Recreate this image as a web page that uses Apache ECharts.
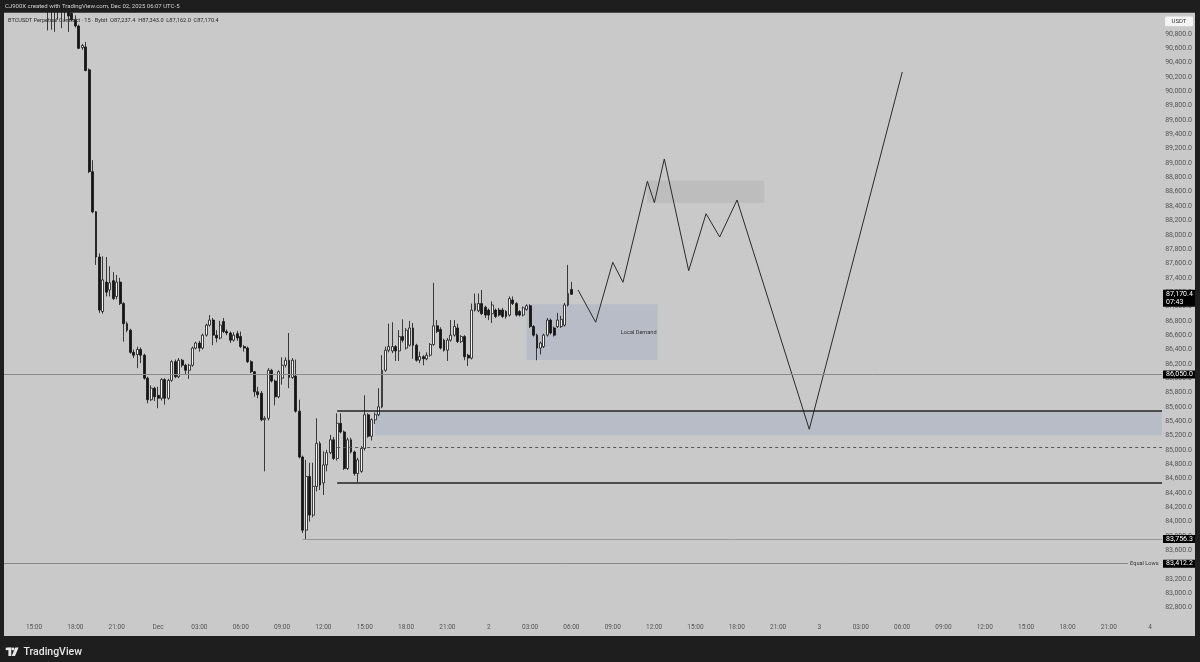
<!DOCTYPE html>
<html><head><meta charset="utf-8">
<script src="https://cdn.jsdelivr.net/npm/echarts@6/dist/echarts.min.js"></script>
<style>html,body{margin:0;padding:0;background:#1e1e1e;}#c{width:1200px;height:662px;}</style>
</head><body><div id="c"></div>
<script>
// ---- time base: hours relative to Dec 1 00:00 (UTC-5); 15-minute bars
const barStartHour = -11;
const barStepHour = 0.25;

// ---- BTCUSDT 15m candles
const opens = [91380,91330,91280,91340,91310,91230,91260,91240,91190,91220,91200,91160,91180,91150,91130,91160,91140,91110,91120,91090,
91000,90910,90610,90620,90300,88880,88320,87690,86930,87340,87230,87360,87140,87340,87040,86760,86670,86360,86330,86400,
86320,86000,85700,85860,85760,85720,85980,85720,85970,86230,86020,86250,86180,86110,86180,86420,86490,86420,86600,86740,
86810,86600,86560,86790,86650,86630,86530,86620,86580,86440,86420,86230,86090,85810,85790,85420,85440,86110,85960,85740,
86000,86180,86250,86010,86030,85540,84900,83880,84630,84090,84490,85090,84540,84790,84960,85140,84880,85370,85250,84740,
85140,84970,84670,84700,85020,85490,85190,85420,85490,85600,86110,86390,86380,86440,86380,86580,86420,86460,86700,86460,
86250,86300,86270,86320,86470,86730,86680,86530,86390,86530,86600,86700,86510,86580,86320,86280,86950,86940,87040,86990,
86950,86900,86950,86950,86950,86930,86880,87090,87040,86930,86880,86960,87010,86720,86600,86420,86440,86600,86810,86700,
86720,86720,86740,87020,87237.4];
const highs = [91450,91400,91360,91420,91350,91300,91330,91280,91260,91290,91240,91220,91230,91200,91190,91210,91180,91160,91170,91110,
91060,90930,90660,90690,90320,89040,88330,87740,87700,87690,87560,87480,87440,87400,87060,86790,86690,86400,86440,86430,
86340,86020,85900,85880,85880,86000,86000,85990,86250,86260,86280,86270,86200,86200,86440,86510,86520,86620,86760,86880,
86840,86670,86800,86840,86680,86650,86640,86660,86650,86460,86440,86250,86100,85880,85820,85470,86140,86130,85980,86110,
86290,86290,86630,86280,86260,85700,84920,84860,84820,84820,85440,85120,84980,85000,85210,85180,85510,85510,85270,85170,
85170,84990,84890,85050,85760,85510,85440,85520,85860,86320,86440,86760,86780,86460,86670,86820,86700,86800,86770,86480,
86370,86320,86360,86490,87330,86810,86710,86550,86560,86810,86810,86760,86600,86600,86340,87040,87180,87180,87230,87010,
86970,87070,86970,86980,86980,86950,87140,87140,87060,86950,87000,87030,87030,86740,86620,86510,86620,86840,86830,86720,
86910,86870,87050,87580,87343.0];
const lows = [91300,91250,91220,91290,91200,91170,91210,91150,91130,91160,91120,91110,90850,90860,90830,91000,90880,90980,90830,90980,
90890,90590,90580,90280,88860,88300,87580,86910,86900,87140,87140,87090,87100,87020,86510,86640,86340,86280,86140,86210,
85980,85650,85680,85680,85580,85690,85630,85700,85950,86000,86000,86150,86050,85990,86160,86400,86370,86400,86580,86720,
86460,86500,86540,86630,86600,86490,86510,86520,86420,86370,86210,86070,85740,85720,85400,84700,85410,85940,85620,85720,
85910,86150,85860,85990,85520,84880,83840,83756.3,84000,84060,84420,84440,84370,84700,84940,84860,84850,85230,84720,84720,
84950,84640,84545,84680,84990,85170,85130,85360,85470,85580,86090,86360,86350,86240,86240,86500,86400,86440,86270,86230,
86210,86180,86250,86300,86450,86630,86400,86370,86240,86510,86580,86490,86490,86250,86170,86260,86930,86920,86880,86840,
86810,86770,86840,86860,86840,86830,86860,87020,86860,86860,86860,86940,86700,86580,86250,86330,86420,86580,86610,86580,
86700,86700,86720,87000,87162.0];
const closes = [91330,91280,91340,91310,91230,91260,91240,91190,91220,91200,91160,91180,91150,91130,91160,91140,91110,91120,91050,90995,
90912,90600,90640,90290,88880,88320,87690,86950,87370,87200,87330,87110,87340,87040,86760,86670,86360,86320,86400,86320,
86000,85700,85860,85740,85720,85980,85720,85970,86230,86020,86250,86180,86110,86180,86420,86490,86420,86600,86740,86810,
86600,86560,86740,86650,86630,86530,86600,86560,86440,86420,86230,86090,85810,85770,85420,85440,86110,85960,85740,86090,
86180,86250,86010,86250,85540,84900,83880,84630,84090,84490,85090,84510,84790,84960,85140,84880,85370,85250,84740,85140,
84970,84670,84860,85020,85490,85190,85420,85490,85600,86110,86390,86440,86440,86380,86580,86530,86670,86700,86460,86250,
86300,86270,86320,86470,86730,86650,86420,86390,86530,86600,86720,86510,86580,86300,86280,86950,87040,87040,86900,86880,
86880,87020,86860,86880,86860,86860,87110,87040,86880,86880,86980,87010,86720,86600,86420,86490,86600,86810,86630,86600,
86810,86820,87020,87180,87170.4];

// ---- projection path (hours, price)
const projHours  = [30.48, 31.76, 33.00, 33.74, 35.51, 36.02, 36.74, 38.51, 39.77, 40.76, 42.02, 47.26, 54.01];
const projPrices = [87230, 86780, 87616, 87337, 88746, 88447, 89057, 87499, 88294, 87969, 88485, 85287, 90270];

// ---- axis ticks
const timeTickHours  = [-9,-6,-3,0,3,6,9,12,15,18,21,24,27,30,33,36,39,42,45,48,51,54,57,60,63,66,69,72];
const timeTickLabels = ['15:00','18:00','21:00','Dec','03:00','06:00','09:00','12:00','15:00','18:00','21:00','2',
  '03:00','06:00','09:00','12:00','15:00','18:00','21:00','3','03:00','06:00','09:00','12:00','15:00','18:00','21:00','4'];
const priceTickMin = 82800, priceTickMax = 90800, priceTickStep = 200;

// ---- drawings (levels & zones)
const fullLevel = 86050;
const equalLows = 83412.2;
const lowLevel = 83756.3;
const rangeHigh = 85545, rangeLow = 84542, rangeMid = 85040;
const lastPrice = 87170.4;
const xMin = -11.18, xMax = 72.86;
const yMin = 82655, yMax = 91093;

const priceTicks = [];
for (let p = priceTickMin; p <= priceTickMax; p += priceTickStep) priceTicks.push(p);
const fmt = v => Number(v).toLocaleString('en-US', {minimumFractionDigits: 1, maximumFractionDigits: 1});
const tickMap = new Map(timeTickHours.map((h, i) => [h, timeTickLabels[i]]));

const candleData = opens.map((o, i) => [barStartHour + i * barStepHour, o, closes[i], lows[i], highs[i]]);
const projData = projHours.map((h, i) => [h, projPrices[i]]);

const tagLabel = (txt) => ({
  show: true, position: 'end', distance: 1, formatter: txt,
  backgroundColor: '#000', color: '#fff', fontSize: 7, fontFamily: 'Roboto',
  padding: [1, 3, 0, 3], lineHeight: 7
});
const hidden = {color: 'rgba(0,0,0,0)', width: 1, type: 'solid'};

const chart = echarts.init(document.getElementById('c'), null, {renderer: 'canvas'});
chart.setOption({
  animation: false,
  backgroundColor: '#c9c9c9',
  grid: {left: 4, right: 38, top: 13, bottom: 44},
  xAxis: {
    type: 'value', min: xMin, max: xMax,
    splitLine: {show: false}, axisLine: {show: false}, axisTick: {show: false},
    axisLabel: {
      customValues: timeTickHours, margin: 6, fontSize: 6.5, fontFamily: 'Roboto', color: '#555',
      formatter: v => tickMap.get(v) || ''
    }
  },
  yAxis: {
    type: 'value', position: 'right', min: yMin, max: yMax, scale: true,
    splitLine: {show: false}, axisLine: {show: false}, axisTick: {show: false},
    axisLabel: {customValues: priceTicks, align: 'right', margin: 30, fontSize: 7, fontFamily: 'Roboto', color: '#555', formatter: fmt}
  },
  graphic: {elements: [
    {type: 'rect', shape: {x: 0, y: 0, width: 1200, height: 12.7}, style: {fill: '#1e1e1e'}, z: 50},
    {type: 'rect', shape: {x: 0, y: 636, width: 1200, height: 26}, style: {fill: '#1e1e1e'}, z: 50},
    {type: 'rect', shape: {x: 0, y: 0, width: 4, height: 662}, style: {fill: '#1e1e1e'}, z: 50},
    {type: 'rect', shape: {x: 1195, y: 0, width: 5, height: 662}, style: {fill: '#1e1e1e'}, z: 50},
    {type: 'text', x: 5, y: 6.6, z: 60, style: {text: 'CJ900X created with TradingView.com, Dec 02, 2025 06:07 UTC-5', fill: '#d2d2d2', fontSize: 6, fontFamily: 'Roboto', verticalAlign: 'middle'}},
    {type: 'text', x: 8, y: 20.7, z: 60, style: {text: 'BTCUSDT Perpetual Contract · 15 · Bybit  O87,237.4  H87,343.0  L87,162.0  C87,170.4', fill: '#2a2a2a', fontSize: 5.6, fontFamily: 'Roboto', verticalAlign: 'middle'}},
    {type: 'rect', shape: {x: 1165, y: 16.5, width: 28, height: 9.8, r: 1.5}, style: {fill: '#f4f4f4'}, z: 60},
    {type: 'text', x: 1179, y: 21.4, z: 61, style: {text: 'USDT', fill: '#333', fontSize: 6, fontFamily: 'Roboto', align: 'center', verticalAlign: 'middle'}},
    {type: 'rect', shape: {x: 5.7, y: 647.6, width: 5.6, height: 2.5}, style: {fill: '#e8e8e8'}, z: 60},
    {type: 'rect', shape: {x: 8.4, y: 647.6, width: 2.9, height: 8.4}, style: {fill: '#e8e8e8'}, z: 60},
    {type: 'circle', shape: {cx: 13.0, cy: 649.0, r: 1.4}, style: {fill: '#e8e8e8'}, z: 60},
    {type: 'polygon', shape: {points: [[15.2, 647.6], [18.6, 647.6], [15.0, 656], [11.7, 656]]}, style: {fill: '#e8e8e8'}, z: 60},
    {type: 'text', x: 23.5, y: 652, z: 60, style: {text: 'TradingView', fill: '#e6e6e6', fontSize: 10.5, fontWeight: 500, fontFamily: 'Roboto', verticalAlign: 'middle'}}
  ]},
  series: [
    {
      type: 'line', data: projData, symbol: 'none', z: 1, clip: false,
      lineStyle: {color: '#2b2b2b', width: 1},
      markArea: {
        silent: true,
        data: [
          [{coord: [15.75, 85540], itemStyle: {color: 'rgba(152,164,195,0.35)'}}, {coord: [xMax, 85205]}],
          [{coord: [26.75, 87030], itemStyle: {color: 'rgba(152,164,195,0.35)'},
            label: {show: true, position: 'insideRight', distance: 1, formatter: 'Local Demand', fontSize: 5.6, fontFamily: 'Roboto', color: '#333'}},
           {coord: [36.25, 86253]}],
          [{coord: [35.5, 88754], itemStyle: {color: 'rgba(165,165,170,0.35)'}}, {coord: [44.0, 88447]}]
        ]
      },
      markLine: {
        silent: true, symbol: ['none', 'none'],
        label: {show: false},
        data: [
          {yAxis: fullLevel, lineStyle: {color: '#8a8a8a', width: 1, type: 'solid'}, label: tagLabel(fmt(fullLevel))},
          [{coord: [xMin, equalLows], lineStyle: {color: '#8a8a8a', width: 1, type: 'solid'},
            label: {show: true, position: 'end', distance: 2, formatter: 'Equal Lows', fontSize: 5.6, fontFamily: 'Roboto', color: '#333'}},
           {coord: [70.4, equalLows]}],
          [{coord: [70.4, equalLows], lineStyle: hidden, label: tagLabel(fmt(equalLows))}, {coord: [xMax, equalLows]}],
          [{coord: [10.5, lowLevel], lineStyle: {color: '#999', width: 1, type: 'solid'}, label: tagLabel(fmt(lowLevel))}, {coord: [xMax, lowLevel]}],
          [{coord: [13.0, rangeHigh], lineStyle: {color: '#222', width: 1.5, type: 'solid'}}, {coord: [xMax, rangeHigh]}],
          [{coord: [13.0, rangeLow], lineStyle: {color: '#222', width: 1.5, type: 'solid'}}, {coord: [xMax, rangeLow]}],
          [{coord: [13.0, rangeMid], lineStyle: {color: '#555', width: 1, type: [3, 3]}}, {coord: [xMax, rangeMid]}],
          [{coord: [30.0, lastPrice], lineStyle: hidden,
            label: Object.assign(tagLabel(fmt(lastPrice) + '\n07:43'), {offset: [0, 4], lineHeight: 7.5, padding: [1, 3, 1, 3]})},
           {coord: [xMax, lastPrice]}]
        ]
      }
    },
    {
      type: 'candlestick', data: candleData, encode: {x: 0, y: [1, 2, 3, 4]},
      barWidth: 2.4, z: 3, clip: true,
      itemStyle: {color: '#f5f5f5', color0: '#151515', borderColor: '#151515', borderColor0: '#151515', borderWidth: 0.8}
    }
  ]
});
</script></body></html>
